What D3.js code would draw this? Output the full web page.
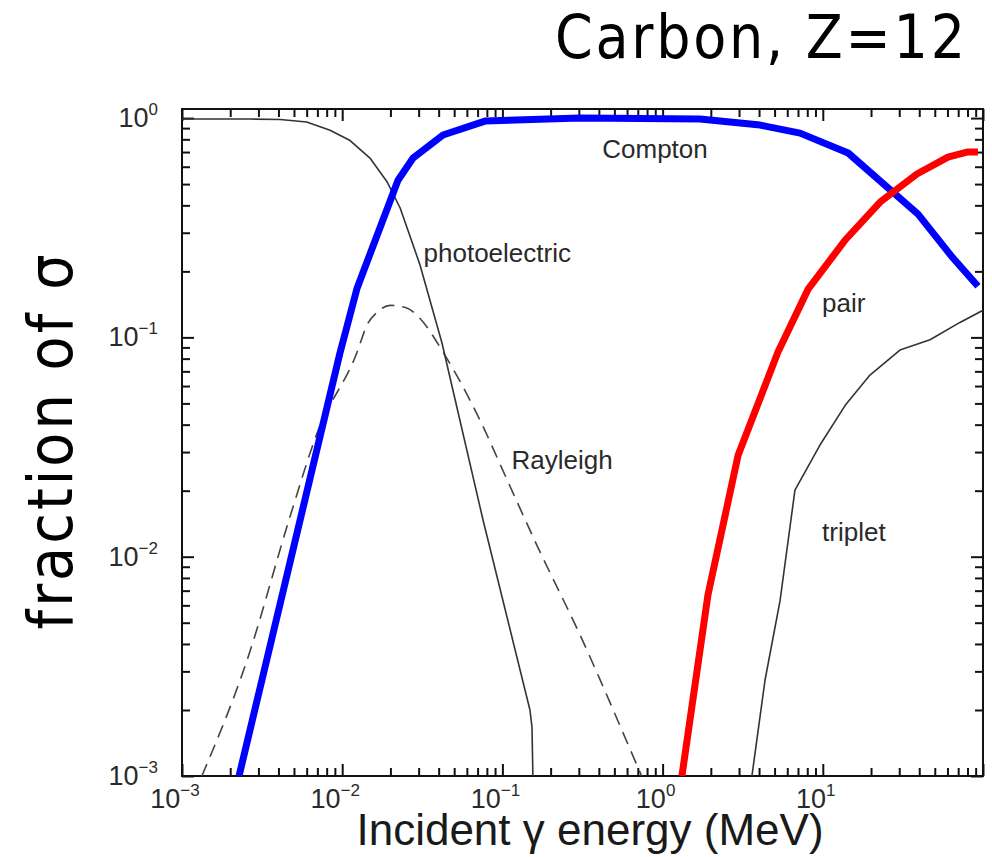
<!DOCTYPE html>
<html>
<head>
<meta charset="utf-8">
<script src="https://cdn.jsdelivr.net/npm/d3@7"></script>
<style>
  body { margin: 0; background: #fff; }
  svg { display: block; }
</style>
</head>
<body>
<div id="chart-area"></div>
<script>
// energies in MeV, fractions of total cross section
var comptonE = [0.00227, 0.00968, 0.0124, 0.0223, 0.0277, 0.0426, 0.0778, 0.305, 1.71, 4.06, 7.21, 14.4, 39.3, 65, 93];
var comptonF = [0.001, 0.0848, 0.168, 0.521, 0.657, 0.837, 0.969, 1.0, 0.99, 0.929, 0.854, 0.693, 0.365, 0.23, 0.171];

var pairE = [1.32, 1.92, 2.96, 5.25, 8.1, 13.8, 22.8, 38.7, 60.4, 79.4, 93];
var pairF = [0.001, 0.0067, 0.029, 0.0857, 0.166, 0.278, 0.414, 0.556, 0.664, 0.70, 0.70];

var photoE = [0.001, 0.00266, 0.0041, 0.006, 0.0084, 0.0112, 0.0149, 0.0191, 0.023, 0.0306, 0.042, 0.0757, 0.1486, 0.153, 0.155];
var photoF = [0.99, 0.99, 0.985, 0.96, 0.88, 0.79, 0.657, 0.511, 0.389, 0.214, 0.094, 0.0147, 0.002, 0.00167, 0.001];

var rayleighE = [0.00133, 0.00255, 0.00472, 0.00697, 0.0124, 0.0143, 0.0165, 0.0199, 0.0253, 0.0306, 0.0426, 0.0724, 0.107, 0.164, 0.305, 0.692, 0.74];
var rayleighF = [0.001, 0.00338, 0.0152, 0.0366, 0.0857, 0.114, 0.130, 0.140, 0.136, 0.122, 0.0857, 0.042, 0.0224, 0.0113, 0.0044, 0.00112, 0.001];

var tripletE = [3.61, 4.36, 5.41, 6.7, 9.6, 13.8, 19.7, 30.3, 46.7, 71.8, 100];
var tripletF = [0.001, 0.00274, 0.0063, 0.0201, 0.0323, 0.049, 0.0673, 0.0875, 0.0976, 0.117, 0.133];

var xDecades = [1e-3, 1e-2, 1e-1, 1e0, 1e1, 1e2];
var yDecades = [1e-3, 1e-2, 1e-1, 1e0];

var labels = [
  { text: "Compton", e: 0.42, f: 0.66 },
  { text: "photoelectric", e: 0.0322, f: 0.22 },
  { text: "Rayleigh", e: 0.114, f: 0.025 },
  { text: "pair", e: 9.9, f: 0.13 },
  { text: "triplet", e: 9.9, f: 0.0118 }
];

var W = 992, H = 857;
var plotLeft = 182, plotRight = 983, plotTop = 109, plotBottom = 776;

var svg = d3.select("#chart-area")
  .append("svg")
  .attr("width", W)
  .attr("height", H);

var x = d3.scaleLog().domain([1e-3, 1e2]).range([plotLeft, plotRight]);
var y = d3.scaleLog().domain([1e-3, 1.1]).range([plotBottom, plotTop]);

function minorTicks(decades) {
  var out = [];
  decades.forEach(function (d) {
    for (var k = 2; k <= 9; k++) out.push(d * k);
  });
  return out;
}
var xMinor = minorTicks(xDecades.slice(0, -1));
var yMinor = minorTicks(yDecades).filter(function (v) { return v <= 1.1; });

svg.append("defs").append("clipPath").attr("id", "plot-clip")
  .append("rect")
  .attr("x", plotLeft).attr("y", plotTop)
  .attr("width", plotRight - plotLeft).attr("height", plotBottom - plotTop);

svg.append("rect")
  .attr("x", plotLeft).attr("y", plotTop)
  .attr("width", plotRight - plotLeft).attr("height", plotBottom - plotTop)
  .attr("fill", "none")
  .attr("stroke", "#111")
  .attr("stroke-width", 2);

// ticks pointing inward on all four sides
function tickGroup(axis, tx, ty, values, size) {
  var g = svg.append("g")
    .attr("class", "ticks")
    .attr("transform", "translate(" + tx + "," + ty + ")")
    .call(axis.tickValues(values).tickSize(size).tickSizeOuter(0).tickFormat(function () { return ""; }));
  g.select(".domain").remove();
  g.selectAll(".tick text").remove();
  g.selectAll(".tick line")
    .attr("stroke", "#111")
    .attr("stroke-width", 2);
  return g;
}
tickGroup(d3.axisBottom(x), 0, plotBottom, xDecades, -12);
tickGroup(d3.axisBottom(x), 0, plotBottom, xMinor, -8);
tickGroup(d3.axisTop(x), 0, plotTop, xDecades, -12);
tickGroup(d3.axisTop(x), 0, plotTop, xMinor, -8);
tickGroup(d3.axisLeft(y), plotLeft, 0, yDecades, -12);
tickGroup(d3.axisLeft(y), plotLeft, 0, yMinor, -8);
tickGroup(d3.axisRight(y), plotRight, 0, yDecades, -12);
tickGroup(d3.axisRight(y), plotRight, 0, yMinor, -8);

function expText(sel, d) {
  var p = Math.round(Math.log10(d));
  sel.append("tspan").text("10");
  sel.append("tspan")
    .attr("font-size", "17px")
    .attr("dy", -12)
    .text(p < 0 ? "\u2212" + (-p) : p);
}

svg.append("g").selectAll("text")
  .data(xDecades.slice(0, -1))
  .enter().append("text")
  .attr("x", function (d) { return x(d) - 7; })
  .attr("y", plotBottom + 32)
  .attr("text-anchor", "middle")
  .attr("font-family", "Liberation Sans, Arial, sans-serif")
  .attr("font-size", "27px")
  .attr("fill", "#2a2a2a")
  .each(function (d) { expText(d3.select(this), d); });

svg.append("g").selectAll("text")
  .data(yDecades)
  .enter().append("text")
  .attr("x", plotLeft - 24)
  .attr("y", function (d) { return y(d) + 9; })
  .attr("text-anchor", "end")
  .attr("font-family", "Liberation Sans, Arial, sans-serif")
  .attr("font-size", "27px")
  .attr("fill", "#2a2a2a")
  .each(function (d) { expText(d3.select(this), d); });

var line = d3.line()
  .x(function (d) { return x(d[0]); })
  .y(function (d) { return y(d[1]); });

var plot = svg.append("g").attr("clip-path", "url(#plot-clip)");

var series = [
  { e: rayleighE, f: rayleighF, color: "#444", width: 1.6, dash: "13,8", smooth: true },
  { e: photoE, f: photoF, color: "#333", width: 1.6, dash: null, smooth: false },
  { e: tripletE, f: tripletF, color: "#333", width: 1.6, dash: null, smooth: false },
  { e: comptonE, f: comptonF, color: "#0000ff", width: 7, dash: null, smooth: false },
  { e: pairE, f: pairF, color: "#ff0000", width: 7, dash: null, smooth: false }
];

plot.selectAll("path")
  .data(series)
  .enter().append("path")
  .attr("d", function (s) {
    return line.curve(s.smooth ? d3.curveMonotoneX : d3.curveLinear)(d3.zip(s.e, s.f));
  })
  .attr("fill", "none")
  .attr("stroke", function (s) { return s.color; })
  .attr("stroke-width", function (s) { return s.width; })
  .attr("stroke-dasharray", function (s) { return s.dash; })
  .attr("stroke-linejoin", "round");

svg.append("g").selectAll("text")
  .data(labels)
  .enter().append("text")
  .attr("x", function (d) { return x(d.e); })
  .attr("y", function (d) { return y(d.f); })
  .attr("font-family", "Liberation Sans, Arial, sans-serif")
  .attr("font-size", "26px")
  .attr("fill", "#2a2a2a")
  .text(function (d) { return d.text; });

svg.append("text")
  .attr("x", 590)
  .attr("y", 845)
  .attr("text-anchor", "middle")
  .attr("font-family", "Liberation Sans, Arial, sans-serif")
  .attr("font-size", "44px")
  .attr("fill", "#1a1a1a")
  .text("Incident \u03b3 energy (MeV)");

svg.append("text")
  .attr("x", 555)
  .attr("y", 58)
  .attr("font-family", "DejaVu Sans Condensed, DejaVu Sans, sans-serif")
  .attr("font-size", "60px")
  .attr("textLength", 410)
  .attr("lengthAdjust", "spacing")
  .attr("fill", "#000")
  .text("Carbon, Z=12");

svg.append("text")
  .attr("transform", "translate(72,442) rotate(-90)")
  .attr("text-anchor", "middle")
  .attr("font-family", "DejaVu Sans Condensed, DejaVu Sans, sans-serif")
  .attr("font-size", "62px")
  .attr("textLength", 375)
  .attr("lengthAdjust", "spacing")
  .attr("fill", "#000")
  .text("fraction of \u03c3");
</script>
</body>
</html>
